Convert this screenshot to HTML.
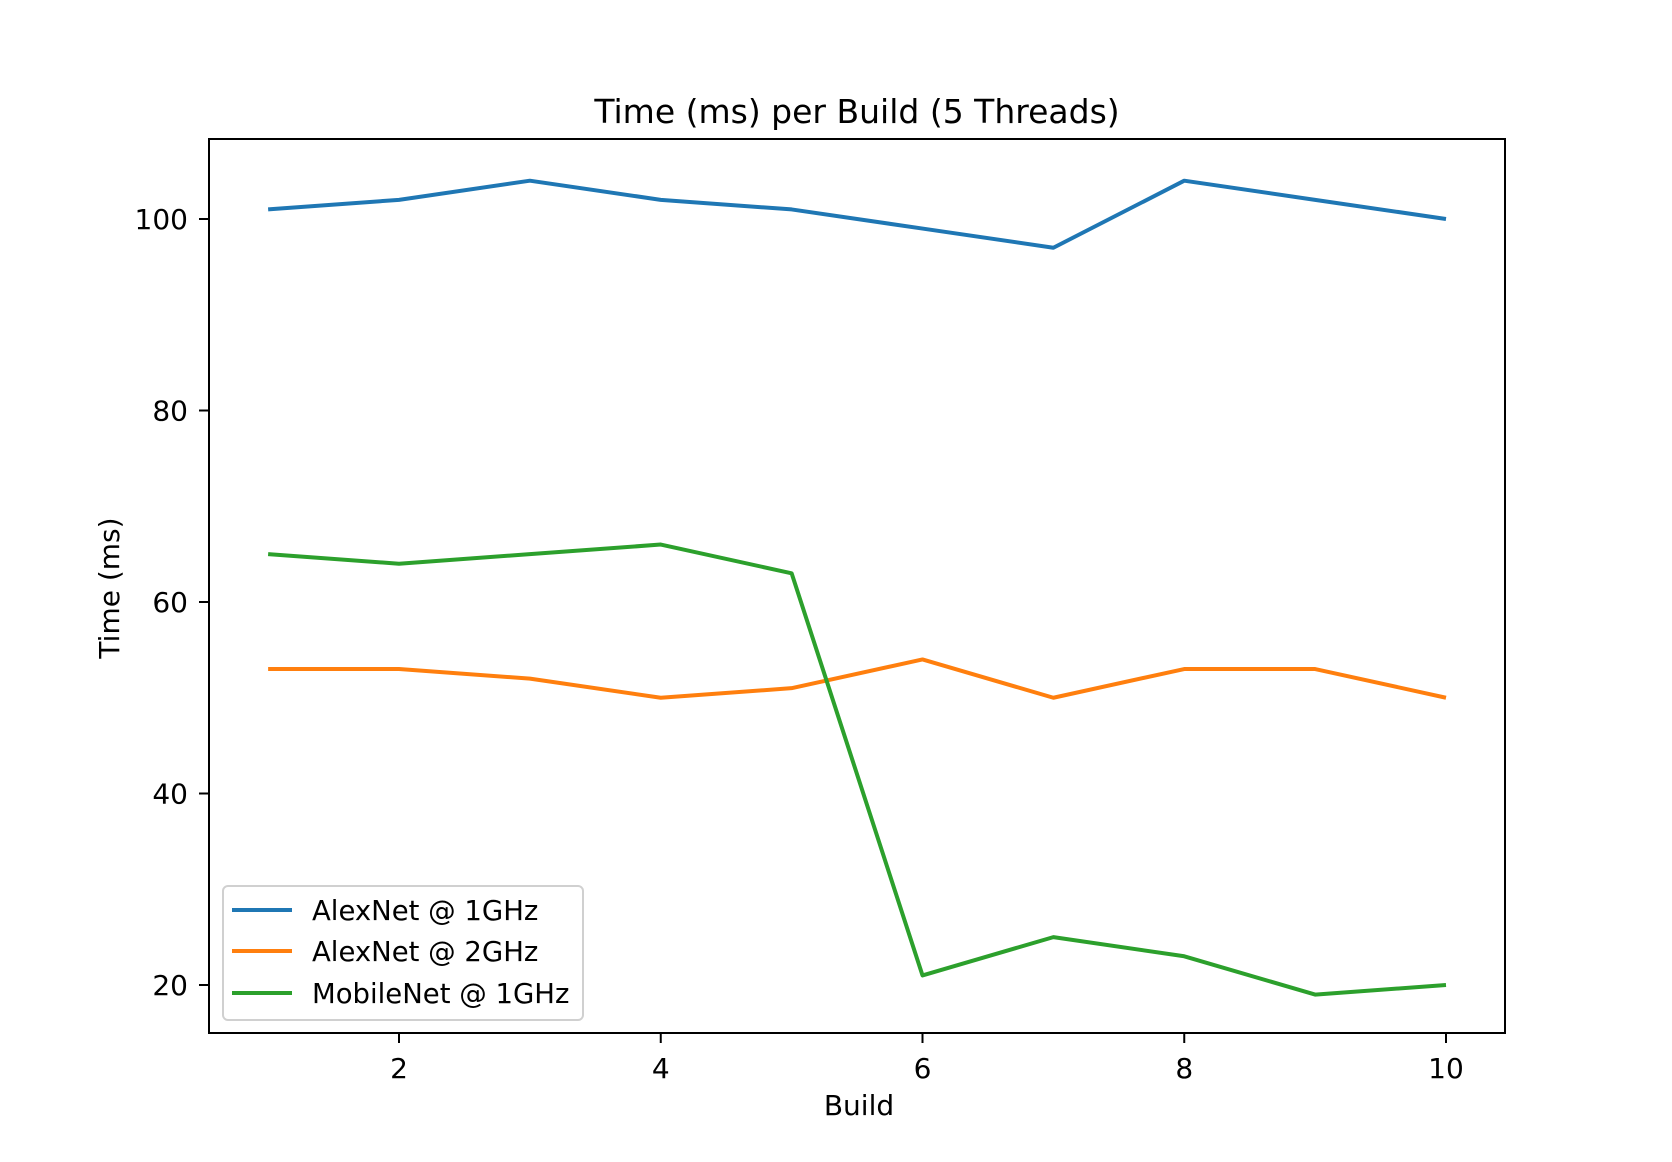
<!DOCTYPE html>
<html><head><meta charset="utf-8"><style>body{margin:0;background:#fff}svg{display:block}text{font-family:"DejaVu Sans","Liberation Sans",sans-serif;fill:#000}</style></head>
<body>
<svg id="chart" width="1672" height="1162" viewBox="0 0 1672 1162">
<rect x="0" y="0" width="1672" height="1162" fill="#fff"/>
<text x="857" y="123" font-size="33" text-anchor="middle">Time (ms) per Build (5 Threads)</text>
<text x="859" y="1115" font-size="28" text-anchor="middle">Build</text>
<text transform="translate(119,588) rotate(-90)" font-size="28" text-anchor="middle">Time (ms)</text>
<g id="marks"></g>
<rect x="209" y="139" width="1296" height="894" fill="none" stroke="#000" stroke-width="2"/>
<g>
<rect x="223" y="886" width="360" height="134" rx="5" fill="#fff" fill-opacity="0.8" stroke="#d0d0d0" stroke-width="2"/>
<line x1="232" y1="910" x2="292" y2="910" stroke="#1f77b4" stroke-width="4"/>
<text x="312" y="920" font-size="27.5">AlexNet @ 1GHz</text>
<line x1="232" y1="951" x2="292" y2="951" stroke="#ff7f0e" stroke-width="4"/>
<text x="312" y="961" font-size="27.5">AlexNet @ 2GHz</text>
<line x1="232" y1="993" x2="292" y2="993" stroke="#2ca02c" stroke-width="4"/>
<text x="312" y="1003" font-size="27.5">MobileNet @ 1GHz</text>
</g>
</svg>
<script>
const builds = [1,2,3,4,5,6,7,8,9,10];
const alexnet1 = [101,102,104,102,101,99,97,104,102,100];
const alexnet2 = [53,53,52,50,51,54,50,53,53,50];
const mobilenet1 = [65,64,65,66,63,21,25,23,19,20];
const xTicks = [2,4,6,8,10];
const yTicks = [20,40,60,80,100];
const NS = "http://www.w3.org/2000/svg";
function xs(v){return 399 + (v-2)*130.875;}
function ys(v){return 219 - (v-100)*9.575;}
const svg = document.getElementById('chart');
const marks = document.getElementById('marks');
xTicks.forEach(t=>{
  const l=document.createElementNS(NS,'line');
  l.setAttribute('x1',xs(t));l.setAttribute('x2',xs(t));l.setAttribute('y1',1033);l.setAttribute('y2',1043);
  l.setAttribute('stroke','#000');l.setAttribute('stroke-width','2');
  
  
  svg.appendChild(l);
  const tx=document.createElementNS(NS,'text');
  tx.setAttribute('x',xs(t));tx.setAttribute('y',1078);tx.setAttribute('font-size','28');tx.setAttribute('text-anchor','middle');
  tx.textContent=t;
  
  
  svg.appendChild(tx);
});
yTicks.forEach(t=>{
  const l=document.createElementNS(NS,'line');
  l.setAttribute('x1',199);l.setAttribute('x2',209);l.setAttribute('y1',ys(t));l.setAttribute('y2',ys(t));
  l.setAttribute('stroke','#000');l.setAttribute('stroke-width','2');
  
  
  svg.appendChild(l);
  const tx=document.createElementNS(NS,'text');
  tx.setAttribute('x',188);tx.setAttribute('y',ys(t)+10);tx.setAttribute('font-size','28');tx.setAttribute('text-anchor','end');
  tx.textContent=t;
  
  
  svg.appendChild(tx);
});
function drawLine(vals,color,name){
  const p=document.createElementNS(NS,'polyline');
  p.setAttribute('points',vals.map((v,i)=>xs(builds[i])+','+ys(v)).join(' '));
  p.setAttribute('fill','none');p.setAttribute('stroke',color);p.setAttribute('stroke-width','4');
  p.setAttribute('stroke-linejoin','round');
  
  
  marks.appendChild(p);
}
drawLine(alexnet1,'#1f77b4','line-alexnet-1ghz');
drawLine(alexnet2,'#ff7f0e','line-alexnet-2ghz');
drawLine(mobilenet1,'#2ca02c','line-mobilenet-1ghz');
</script>
</body></html>
